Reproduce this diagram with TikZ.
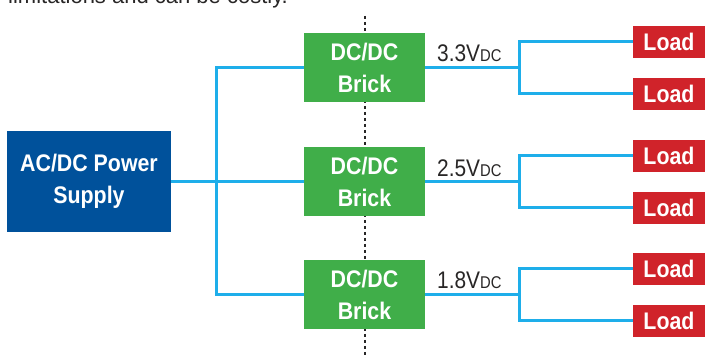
\documentclass[tikz,border=0pt]{standalone}
\usepackage{fontspec}
\setmainfont{Liberation Sans}
\newfontfamily\boxfont[FakeStretch=0.89]{Liberation Sans Bold}
\newfontfamily\labfont[FakeStretch=0.87]{Liberation Sans}
\definecolor{acblue}{RGB}{0,81,155}
\definecolor{brickgreen}{RGB}{64,174,73}
\definecolor{loadred}{RGB}{208,35,42}
\definecolor{wireblue}{RGB}{30,174,234}
\definecolor{txtgray}{RGB}{40,38,38}
\tikzset{
  blk/.style={inner sep=0pt, align=center, text=white, font=\boxfont\fontsize{24}{32}\selectfont},
  acbox/.style={blk, fill=acblue, minimum width=164pt, minimum height=101pt},
  brickbox/.style={blk, fill=brickgreen, minimum width=121pt, minimum height=69pt},
  loadbox/.style={blk, fill=loadred, minimum width=72pt, minimum height=32pt},
  wire/.style={draw=wireblue, line width=3pt, line join=miter},
  volt/.style={inner sep=0pt, anchor=base west, text=txtgray, font=\labfont\fontsize{24}{28}\selectfont},
  divider/.style={draw=txtgray, line width=1.3pt, dash pattern=on 3pt off 3pt}
}
\newcommand{\dcsub}{{\fontsize{17}{20}\selectfont DC}}
\begin{document}
\begin{tikzpicture}[x=1pt,y=-1pt]
\useasboundingbox (0,0) rectangle (705,358);
\clip (0,0) rectangle (705,358);
\fill[white] (0,0) rectangle (705,358);
% cut-off text at top
\node[inner sep=0pt, anchor=base west, text=txtgray, font=\fontsize{22}{26}\selectfont] (toptxt) at (8,4) {limitations and can be costly.};
% dashed divider
\coordinate (dtop) at (365,16);
\coordinate (dbot) at (365,358);
\draw[divider] (dtop) -- (dbot);
% nodes
\node[acbox] (ac) at (89,181.5) {AC/DC Power\\Supply};
\node[brickbox] (b1) at (364.5,67.5) {DC/DC\\Brick};
\node[brickbox] (b2) at (364.5,182) {DC/DC\\Brick};
\node[brickbox] (b3) at (364.5,294.5) {DC/DC\\Brick};
\node[loadbox] (l11) at (669,42) {Load};
\node[loadbox] (l12) at (669,94) {Load};
\node[loadbox] (l21) at (669,156) {Load};
\node[loadbox] (l22) at (669,208) {Load};
\node[loadbox] (l31) at (669,269) {Load};
\node[loadbox] (l32) at (669,321) {Load};
% junction columns
\coordinate (jx) at (216,0);
\coordinate (kx) at (519,0);
% left wiring
\draw[wire] (ac.east) -- (ac.east -| jx);
\draw[wire] (b1.west) -- (b1.west -| jx) -- (b3.west -| jx) -- (b3.west);
\draw[wire] (b2.west) -- (b2.west -| jx);
% right wiring
\foreach \b/\la/\lb in {b1/l11/l12, b2/l21/l22, b3/l31/l32}{
  \draw[wire] (\b.east) -- (\b.east -| kx);
  \draw[wire] (\la.west) -- (\la.west -| kx) -- (\lb.west -| kx) -- (\lb.west);
}
% voltage labels
\node[volt] (v1) at (437,62) {3.3V\dcsub};
\node[volt] (v2) at (437,176.5) {2.5V\dcsub};
\node[volt] (v3) at (437,289) {1.8V\dcsub};
\end{tikzpicture}
\end{document}
